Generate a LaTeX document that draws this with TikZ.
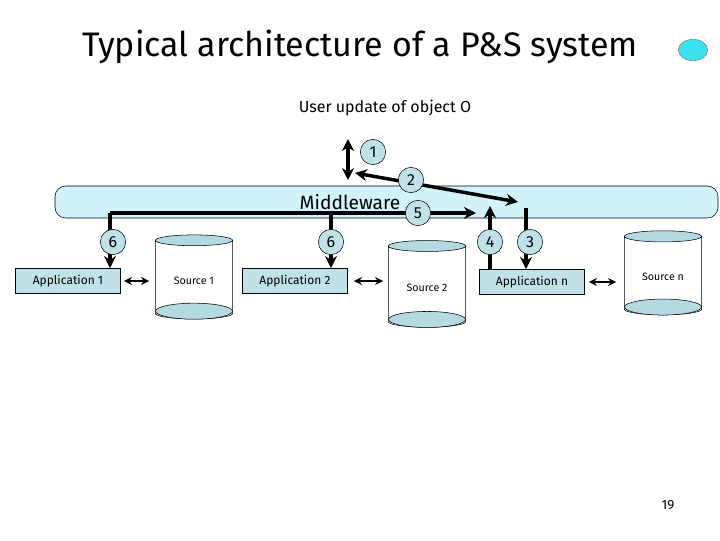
\documentclass[tikz,border=0pt]{standalone}
\usepackage{fontspec}
\setmainfont{Fira Sans}
\usetikzlibrary{arrows.meta,shapes.geometric,calc}
\definecolor{band}{RGB}{208,242,248}
\definecolor{boxc}{RGB}{190,226,232}
\definecolor{cyl}{RGB}{178,218,224}
\definecolor{dot}{RGB}{60,225,240}
\begin{document}
\begin{tikzpicture}[x=0.75pt,y=-0.75pt]
\tikzset{
  num/.style={circle,draw,fill=boxc,inner sep=0pt,minimum size=19pt,font=\large},
  app/.style={draw,fill=boxc,minimum width=79pt,minimum height=19pt,inner sep=1pt,font=\small},
  conn/.style={line width=2.6pt,-{Stealth[length=9pt,width=9pt]}},
  dbl/.style={line width=2.6pt,{Stealth[length=9pt,width=9pt]}-{Stealth[length=9pt,width=9pt]}},
  thin/.style={line width=1.4pt,{Stealth[length=6pt,width=6pt]}-{Stealth[length=6pt,width=6pt]}},
  cyl/.style={draw,cylinder,shape border rotate=90,aspect=0.22,minimum width=58pt,
    cylinder uses custom fill,cylinder body fill=white,cylinder end fill=cyl,font=\footnotesize}
}
\useasboundingbox (0,0) rectangle (720,540);
\node (title) at (360,47) {\fontsize{25.5pt}{30pt}\selectfont Typical architecture of a P\&S system};
\node[ellipse,draw=gray,fill=dot,minimum width=22pt,minimum height=16pt,inner sep=0pt] (dot) at (693,50) {};
\node (user) at (385,108) {\large User update of object O};
\draw[fill=band,rounded corners=8pt] (55,186) rectangle (718,218);
\node (mw) at (350,202) {\Large Middleware};
% applications
\node[app] (a1) at (68,281) {Application 1};
\node[app] (a2) at (295,281) {Application 2};
\node[app] (an) at (532,282) {Application n};
% sources
\node[cyl,minimum height=63pt] (s1) at (194,281) {Source 1};
\node[cyl,minimum height=65pt] (s2) at (427,288) {Source 2};
\node[cyl,minimum height=63pt] (sn) at (663,277) {Source n};
\foreach \s in {s1,s2,sn}
  \draw[fill=cyl] ($(\s.bottom)+(0,-8)$) ellipse [x radius=38.5, y radius=8];
% user update
\coordinate (u1) at (348,139);
\coordinate (u2) at (348,180);
\draw[dbl] (u1) -- (u2);
\coordinate (p2a) at (355,173);
\coordinate (p2b) at (518,202);
\draw[dbl] (p2a) -- (p2b);
% line 5
\coordinate (l5a) at (110,213);
\coordinate (l5m) at (331,213);
\coordinate (l5b) at (476,213);
\draw[conn] (l5m) -- (l5b);
\draw[line width=2.6pt] (l5m) -- (l5a);
\draw[conn] (l5a) -- (l5a |- a1.north);
\draw[conn] (l5m) -- (l5m |- a2.north);
\coordinate (c4) at (490,206);
\coordinate (c3) at (526,208);
\draw[conn] (c4 |- an.north) -- (c4);
\draw[conn] (c3) -- (c3 |- an.north);
% numbers
\node[num] (n1) at (373,152) {1};
\node[num] (n2) at (411,180) {2};
\node[num] (n5) at (418,213) {5};
\node[num] (n6a) at (113,242) {6};
\node[num] (n6b) at (331,242) {6};
\node[num] (n4) at (490,242) {4};
\node[num] (n3) at (530,242) {3};
% app-source
\draw[thin] ($(a1.east)+(3,0)$) -- ($(s1.west |- a1.east)+(-6,0)$);
\draw[thin] ($(a2.east)+(6,0)$) -- ($(s2.west |- a2.east)+(-5,0)$);
\draw[thin] ($(an.east)+(4,0)$) -- ($(sn.west |- an.east)+(-8,0)$);
\node (pg) at (668,505) {19};
\end{tikzpicture}
\end{document}
